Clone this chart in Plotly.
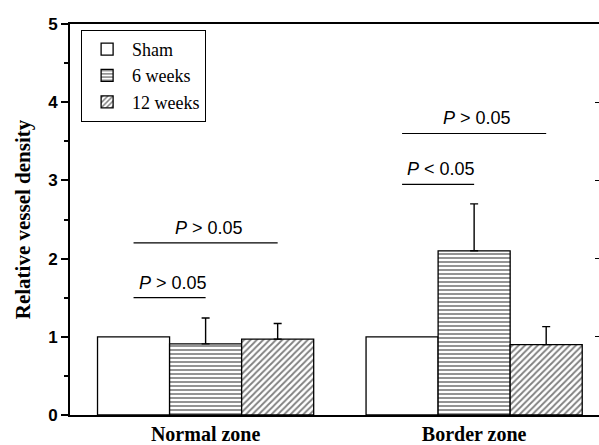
import plotly.graph_objects as go

categories = ["Normal zone", "Border zone"]
series_names = ["Sham", "6 weeks", "12 weeks"]
values = {
    "Sham": [1.0, 1.0],
    "6 weeks": [0.91, 2.10],
    "12 weeks": [0.97, 0.90],
}
errors = {
    "Sham": [0.0, 0.0],
    "6 weeks": [0.33, 0.60],
    "12 weeks": [0.20, 0.23],
}
patterns = {"Sham": "", "6 weeks": "-", "12 weeks": "/"}

# significance brackets: group index, from series, to series, height, label
br_group = [0, 0, 1, 1]
br_from = [0, 0, 0, 0]
br_to = [1, 2, 1, 2]
br_y = [1.5, 2.2, 2.95, 3.6]
br_text = ["<i>P</i> > 0.05", "<i>P</i> > 0.05", "<i>P</i> < 0.05", "<i>P</i> > 0.05"]

bargap = 0.195
bar_w = (1 - bargap) / 3
xpos = list(range(len(categories)))

fig = go.Figure()
for i, name in enumerate(series_names):
    fig.add_trace(go.Bar(
        name=name,
        x=xpos,
        y=values[name],
        marker=dict(
            color="white",
            line=dict(color="black", width=1.3),
            pattern=dict(shape=patterns[name], fgcolor="black", bgcolor="white",
                         size=4 if name == "6 weeks" else 4.5,
                         solidity=0.42 if name == "6 weeks" else 0.4),
        ),
        error_y=dict(type="data", symmetric=False, array=errors[name],
                     arrayminus=[0] * len(categories),
                     visible=any(e > 0 for e in errors[name]),
                     color="black", thickness=1.4, width=4),
    ))

# carrier for the mirrored right-hand tick marks
fig.add_trace(go.Scatter(x=[None], y=[None], yaxis="y2", showlegend=False,
                         hoverinfo="skip", mode="markers"))

def center(g, s):
    return g + (s - 1) * bar_w

for g, a, b, yv, t in zip(br_group, br_from, br_to, br_y, br_text):
    x0, x1 = center(g, a), center(g, b)
    fig.add_shape(type="line", xref="x", yref="y", x0=x0, x1=x1, y0=yv, y1=yv,
                  line=dict(color="black", width=1.2))
    fig.add_annotation(x=(x0 + x1) / 2 + 0.012, y=yv, xref="x", yref="y", text=t,
                       showarrow=False, yanchor="middle", yshift=15,
                       font=dict(family="Liberation Sans", size=18, color="black"))

fig.update_layout(
    width=599, height=445,
    margin=dict(l=70, r=0, t=24, b=26),
    paper_bgcolor="white", plot_bgcolor="white",
    barmode="group", bargap=bargap, bargroupgap=0,
    showlegend=True,
    legend=dict(x=0.021, y=0.985, xanchor="left", yanchor="top",
                bordercolor="black", borderwidth=1, bgcolor="white",
                font=dict(family="Liberation Serif", size=18, color="black"),
                tracegroupgap=0, itemwidth=40),
    xaxis=dict(range=[-0.505, 1.465], showline=True, linecolor="black", linewidth=2,
               mirror=True, ticks="", tickmode="array", tickvals=xpos,
               ticktext=["<b>%s</b>" % c for c in categories],
               tickfont=dict(family="Liberation Serif", size=20, color="black"),
               showgrid=False, zeroline=False),
    yaxis=dict(range=[0, 5], showline=True, linecolor="black", linewidth=2,
               ticks="outside", ticklen=7, tickwidth=1.5, tickcolor="black",
               dtick=1, tickfont=dict(family="Liberation Sans", size=17, color="black"),
               tickprefix="<b>", ticksuffix="</b>",
               minor=dict(dtick=0.5, ticks="outside", ticklen=4, tickwidth=1.5, tickcolor="black"),
               showgrid=False, zeroline=False,
               title=dict(text="<b>Relative vessel density</b>", standoff=12,
                          font=dict(family="Liberation Serif", size=21, color="black"))),
    yaxis2=dict(range=[0, 5], overlaying="y", side="right", showline=False,
                ticks="inside", ticklen=4, tickwidth=1, tickcolor="black",
                dtick=1, showticklabels=False, showgrid=False, zeroline=False),
)

fig.write_html("out.html")
